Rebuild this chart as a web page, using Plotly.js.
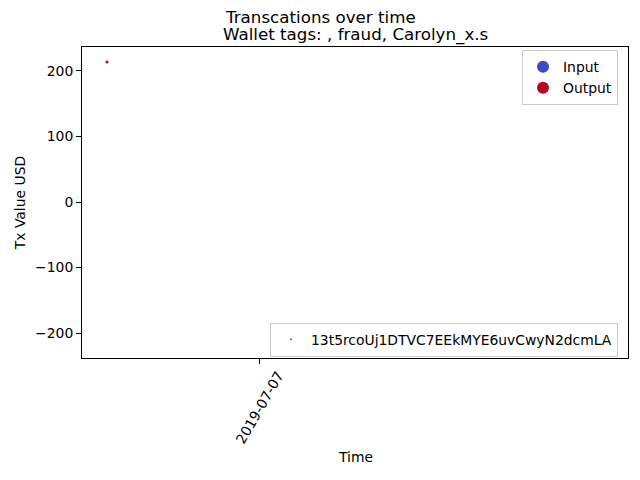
<!DOCTYPE html>
<html>
<head>
<meta charset="utf-8">
<script src="https://cdn.plot.ly/plotly-3.0.1.min.js"></script>
<style>html,body{margin:0;padding:0;background:#fff}#chart{width:640px;height:480px}</style>
</head>
<body>
<div id="chart"></div>
<script>
// Data
const txTimes = ['2019-07-06 13:55:00'];
const txValues = [213.7];
const txDirection = ['Output'];
const walletAddress = '13t5rcoUj1DTVC7EEkMYE6uvCwyN2dcmLA';
const directionLabels = ['Input', 'Output'];
const directionColors = {Input: '#3b4cc0', Output: '#b40426'};
const yTicks = [-200, -100, 0, 100, 200];
const xTicks = ['2019-07-07'];

const FONT = 'DejaVu Sans, sans-serif';
const traces = [];
// actual points
traces.push({
  type: 'scatter', mode: 'markers',
  x: txTimes, y: txValues,
  marker: {color: txDirection.map(d => directionColors[d]), size: 3},
  showlegend: false, hoverinfo: 'skip'
});
// legend entries for direction
directionLabels.forEach(lbl => traces.push({
  type: 'scatter', mode: 'markers', x: [null], y: [null], name: lbl,
  marker: {color: directionColors[lbl], size: 8}, legend: 'legend'
}));
// wallet address legend
traces.push({
  type: 'scatter', mode: 'markers', x: [null], y: [null], name: walletAddress,
  marker: {color: '#1f77b4', size: 2}, legend: 'legend2'
});

// rotated x tick labels drawn as annotations so they are centred on the tick (matplotlib style)
const tickAnnotations = xTicks.map(t => ({
  text: t, xref: 'x', yref: 'paper', x: t, y: -(407 - 358) / 311,
  xanchor: 'center', yanchor: 'middle', textangle: -60, showarrow: false,
  font: {size: 13.9}
}));

const layout = {
  width: 640, height: 480,
  margin: {l: 82, r: 12, t: 47, b: 122, pad: 0},
  paper_bgcolor: '#fff', plot_bgcolor: '#fff',
  font: {family: FONT, size: 13.9, color: '#000'},
  showlegend: true,
  xaxis: {
    type: 'date',
    range: ['2019-07-06 12:16:00', '2019-07-08 00:16:00'],
    tickmode: 'array', tickvals: xTicks, showticklabels: false,
    ticks: 'outside', ticklen: 5, tickwidth: 1, tickcolor: '#000',
    showline: true, linecolor: '#000', linewidth: 1, mirror: true,
    showgrid: false, zeroline: false
  },
  yaxis: {
    range: [-238, 236.6],
    tickmode: 'array', tickvals: yTicks,
    ticks: 'outside', ticklen: 5, tickwidth: 1, tickcolor: '#000',
    showline: true, linecolor: '#000', linewidth: 1, mirror: true,
    showgrid: false, zeroline: false,
    title: {text: 'Tx Value USD', font: {size: 13.9}, standoff: 6}
  },
  legend: {
    x: 0.9817, y: 0.99, xanchor: 'right', yanchor: 'top',
    bgcolor: 'rgba(255,255,255,0.8)', bordercolor: '#cccccc', borderwidth: 1,
    font: {size: 13.9}, itemsizing: 'constant', tracegroupgap: 0
  },
  legend2: {
    x: 0.9817, y: 0.004, xanchor: 'right', yanchor: 'bottom',
    bgcolor: 'rgba(255,255,255,0.8)', bordercolor: '#cccccc', borderwidth: 1,
    font: {size: 13.9}, itemsizing: 'trace'
  },
  annotations: tickAnnotations.concat([
    {text: 'Time', xref: 'paper', yref: 'paper',
     x: 0.5, y: -(457 - 358) / 311, xanchor: 'center', yanchor: 'middle',
     showarrow: false, font: {size: 13.9}},
    {text: 'Transcations over time', xref: 'paper', yref: 'paper',
     x: (320 - 82) / 546, y: 1 + (47 - 17) / 311, xanchor: 'center', yanchor: 'middle',
     showarrow: false, font: {size: 16.7}},
    {text: 'Wallet tags: , fraud, Carolyn_x.s', xref: 'paper', yref: 'paper',
     x: 0.5, y: 1 + (47 - 35) / 311, xanchor: 'center', yanchor: 'middle',
     showarrow: false, font: {size: 16.7}}
  ])
};

Plotly.newPlot('chart', traces, layout, {displayModeBar: false, staticPlot: true});
</script>
</body>
</html>
